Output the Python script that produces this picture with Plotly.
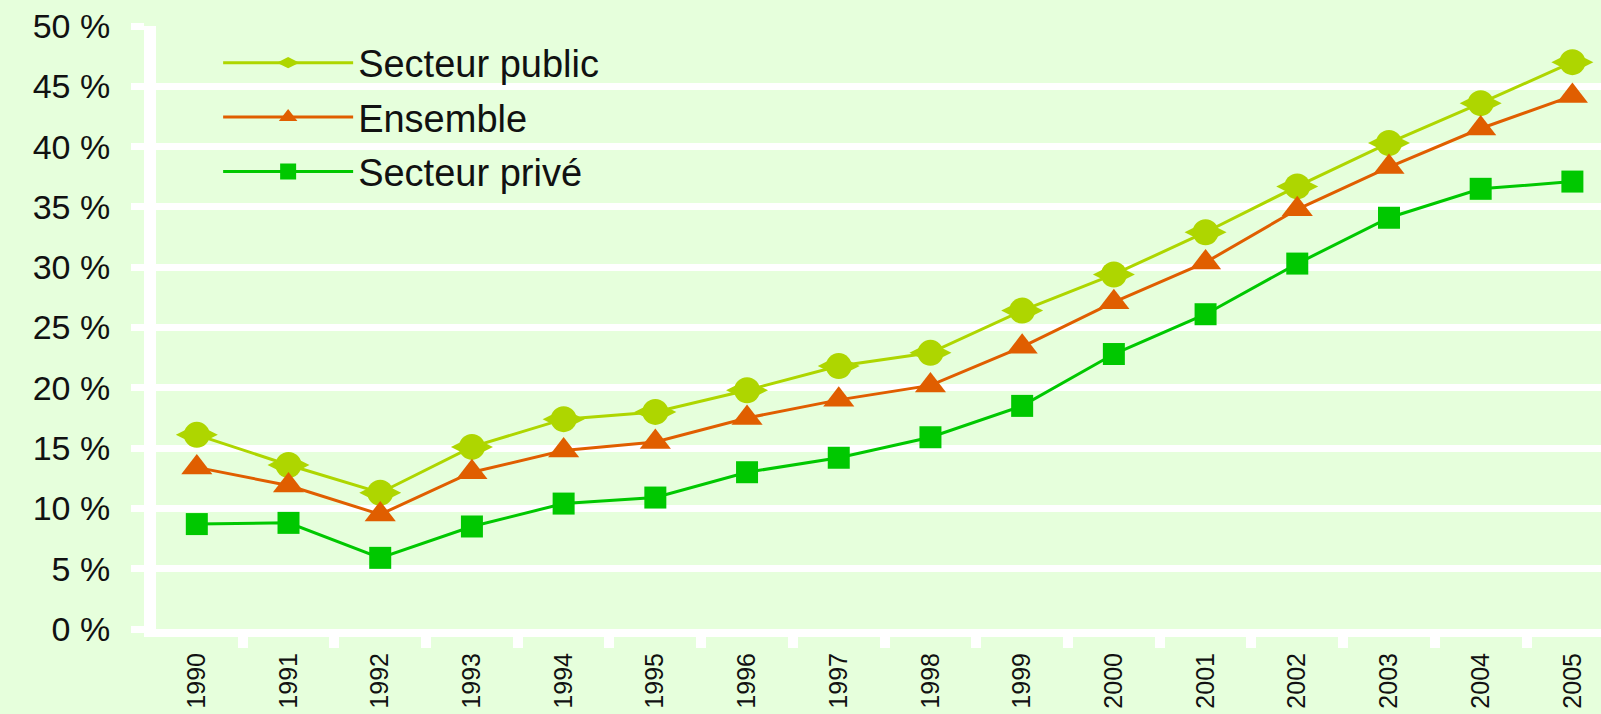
import plotly.graph_objects as go

years = ["1990", "1991", "1992", "1993", "1994", "1995", "1996", "1997",
         "1998", "1999", "2000", "2001", "2002", "2003", "2004", "2005"]
secteur_public = [16.1, 13.6, 11.3, 15.1, 17.4, 18.0, 19.8, 21.8,
                  22.9, 26.4, 29.4, 32.9, 36.7, 40.3, 43.6, 47.0]
ensemble = [13.4, 11.9, 9.5, 13.0, 14.8, 15.5, 17.5, 19.0,
            20.2, 23.4, 27.1, 30.4, 34.8, 38.3, 41.5, 44.2]
secteur_prive = [8.7, 8.8, 5.9, 8.5, 10.4, 10.9, 13.0, 14.2,
                 15.9, 18.5, 22.8, 26.1, 30.3, 34.1, 36.5, 37.1]
y_ticks = [0, 5, 10, 15, 20, 25, 30, 35, 40, 45, 50]
y_tick_labels = ["0 %", "5 %", "10 %", "15 %", "20 %", "25 %", "30 %",
                 "35 %", "40 %", "45 %", "50 %"]

C_PUB = "#AED600"
C_ENS = "#E05E00"
C_PRI = "#00C800"
BG = "#E6FFDC"
FONT = "Arial, Liberation Sans, sans-serif"

fig = go.Figure()
fig.add_trace(go.Scatter(x=years, y=secteur_public, name="Secteur public",
                         mode="lines+markers", legendgroup="a",
                         line=dict(color=C_PUB, width=3),
                         marker=dict(symbol="diamond-wide", size=30, color=C_PUB)))
fig.add_trace(go.Scatter(x=years, y=secteur_public, showlegend=False,
                         mode="markers", hoverinfo="skip",
                         marker=dict(symbol="circle", size=26, color=C_PUB)))
fig.add_trace(go.Scatter(x=years, y=ensemble, name="Ensemble",
                         mode="lines+markers", legendgroup="b",
                         line=dict(color=C_ENS, width=3),
                         marker=dict(symbol="triangle-up", size=27, color=C_ENS)))
fig.add_trace(go.Scatter(x=years, y=secteur_prive, name="Secteur privé",
                         mode="lines+markers", legendgroup="c",
                         line=dict(color=C_PRI, width=3),
                         marker=dict(symbol="square", size=22, color=C_PRI)))

fig.update_layout(
    width=1601, height=714,
    margin=dict(l=156, r=0, t=26, b=85, pad=0, autoexpand=False),
    paper_bgcolor=BG, plot_bgcolor=BG,
    font=dict(family=FONT, color="#111111"),
    showlegend=True,
    legend=dict(x=0.043, y=0.991, xanchor="left", yanchor="top",
                bgcolor="rgba(0,0,0,0)", font=dict(size=38, color="#111111"),
                traceorder="grouped", tracegroupgap=2, itemwidth=130,
                itemsizing="trace"),
)
fig.update_xaxes(type="category", range=[-0.445, 15.312], automargin=False,
                 tickson="boundaries", ticks="outside", ticklen=11, tickwidth=10,
                 tickcolor="white", showline=True, linecolor="white", linewidth=8,
                 showgrid=False, tickangle=-90, ticklabelstandoff=6,
                 tickfont=dict(size=25, color="#111111", family=FONT))
fig.update_yaxes(range=[0, 50], tickmode="array", tickvals=y_ticks, automargin=False,
                 ticktext=y_tick_labels, showgrid=True, gridcolor="white",
                 gridwidth=7, showline=True, linecolor="white", linewidth=12,
                 ticks="outside", ticklen=13, tickwidth=7, tickcolor="white",
                 zeroline=False, ticklabelstandoff=14,
                 tickfont=dict(size=34, color="#111111", family=FONT))

fig.write_html("out.html", config={"displayModeBar": False},
               post_script="document.body.style.margin='0px';")
